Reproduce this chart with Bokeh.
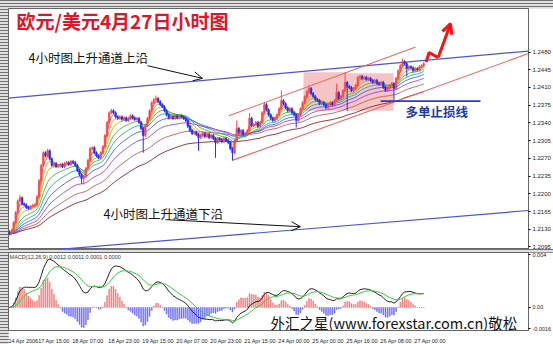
import numpy as np
from bokeh.plotting import figure
from bokeh.models import Range1d, FixedTicker, PrintfTickFormatter, Label, Arrow, OpenHead
from bokeh.layouts import column
from bokeh.embed import file_html
from bokeh.resources import INLINE

# ---------------- data ----------------
closes = [
    1.2121, 1.2127, 1.2143, 1.2163, 1.2186, 1.2192, 1.2180, 1.2178, 1.2173, 1.2171,
    1.2175, 1.2177, 1.2178, 1.2194, 1.2226, 1.2256, 1.2281, 1.2275, 1.2285, 1.2269,
    1.2256, 1.2260, 1.2254, 1.2256, 1.2258, 1.2254, 1.2260, 1.2262, 1.2258, 1.2264,
    1.2262, 1.2256, 1.2246, 1.2238, 1.2230, 1.2234, 1.2250, 1.2266, 1.2289, 1.2291,
    1.2281, 1.2275, 1.2271, 1.2281, 1.2293, 1.2315, 1.2341, 1.2360, 1.2364, 1.2360,
    1.2352, 1.2349, 1.2352, 1.2347, 1.2350, 1.2345, 1.2349, 1.2354, 1.2350, 1.2347,
    1.2349, 1.2341, 1.2329, 1.2315, 1.2335, 1.2349, 1.2364, 1.2380, 1.2386, 1.2388,
    1.2382, 1.2376, 1.2372, 1.2364, 1.2356, 1.2350, 1.2352, 1.2349, 1.2354, 1.2350,
    1.2354, 1.2352, 1.2349, 1.2345, 1.2333, 1.2325, 1.2319, 1.2321, 1.2317, 1.2311,
    1.2315, 1.2319, 1.2313, 1.2317, 1.2311, 1.2315, 1.2309, 1.2301, 1.2309, 1.2307,
    1.2303, 1.2309, 1.2305, 1.2301, 1.2289, 1.2281, 1.2305, 1.2329, 1.2321, 1.2325,
    1.2317, 1.2319, 1.2325, 1.2349, 1.2335, 1.2337, 1.2341, 1.2333, 1.2341, 1.2360,
    1.2376, 1.2366, 1.2356, 1.2349, 1.2345, 1.2349, 1.2356, 1.2368, 1.2384, 1.2378,
    1.2370, 1.2364, 1.2368, 1.2360, 1.2356, 1.2345, 1.2356, 1.2368, 1.2380, 1.2392,
    1.2402, 1.2408, 1.2398, 1.2392, 1.2386, 1.2384, 1.2378, 1.2380, 1.2376, 1.2370,
    1.2376, 1.2380, 1.2376, 1.2384, 1.2400, 1.2388, 1.2392, 1.2404, 1.2420, 1.2412,
    1.2410, 1.2404, 1.2408, 1.2414, 1.2430, 1.2432, 1.2428, 1.2430, 1.2426, 1.2428,
    1.2424, 1.2420, 1.2424, 1.2418, 1.2416, 1.2420, 1.2410, 1.2404, 1.2408, 1.2414,
    1.2418, 1.2408, 1.2428, 1.2443, 1.2453, 1.2461, 1.2457, 1.2447, 1.2451, 1.2449,
    1.2443, 1.2447, 1.2445, 1.2451, 1.2453, 1.2457,
]
first_open = 1.2125
wick = 0.0003
spike_high = {5: 1.2198, 18: 1.2289, 48: 1.2368, 69: 1.2394, 107: 1.2345, 113: 1.2360,
              120: 1.2382, 128: 1.2404, 141: 1.2414, 154: 1.2418, 158: 1.2439, 185: 1.2467}
spike_low = {34: 1.2220, 35: 1.2218, 63: 1.2281, 89: 1.2285, 97: 1.2271, 105: 1.2266,
             135: 1.2331, 159: 1.2364, 181: 1.2384, 187: 1.2432}

price_ticks = [1.2095, 1.2130, 1.2165, 1.2200, 1.2235, 1.2270, 1.2305, 1.2340,
               1.2375, 1.2410, 1.2445, 1.2480]
last_price_label = "1.2457"
date_tick_bars = [4, 21, 37, 54, 70, 86, 102, 118, 134, 150, 166, 182, 198]
date_tick_labels = ["14 Apr 2006", "17 Apr 15:00", "18 Apr 07:00", "18 Apr 23:00",
                    "19 Apr 15:00", "20 Apr 07:00", "20 Apr 23:00", "21 Apr 15:00",
                    "24 Apr 00:00", "25 Apr 00:00", "25 Apr 16:00", "26 Apr 08:00",
                    "27 Apr 00:00"]
macd_ticks = [0.0040, 0.0, -0.0016]
macd_tick_labels = ["0.004", "0.00", "-0.0016"]

ma_periods = [3, 5, 8, 13, 19, 27, 38, 55, 80]
ma_colors = ["#ff3a3a", "#ff9a20", "#a8c020", "#3cb83c", "#20a8b0", "#4a5cf0",
             "#9a44e0", "#c05a5a", "#8b2020"]

# drawn objects (bar index, price)
blue_upper_bars = [-0.4, 244.3]
blue_upper_prices = [1.2389, 1.2482]
blue_lower_bars = [-0.4, 244.3]
blue_lower_prices = [1.2082, 1.2167]
red_upper_bars = [103.2, 191.2]
red_upper_prices = [1.2354, 1.2490]
red_lower_bars = [104.9, 244.3]
red_lower_prices = [1.2266, 1.2477]
stop_bars = [174.7, 221.7]
stop_prices = [1.2383, 1.2383]
box_left = [138.4, 159.2]
box_right = [159.2, 180.8]
box_bottom = [1.2364, 1.2364]
box_top = [1.2440, 1.2438]
up_arrow_bars = [196.1, 197.5, 201.8, 207.6]
up_arrow_prices = [1.2460, 1.2479, 1.2469, 1.2536]
note_arrow_upper = [65.0, 1.2453, 90.9, 1.2428]
note_arrow_lower = [73.5, 1.2149, 137.0, 1.2135]

# ---------------- derived ----------------
n = len(closes)
idx = np.arange(n)
c = np.array(closes)
o = np.concatenate([[first_open], c[:-1]])
hi = np.maximum(o, c) + wick
lo = np.minimum(o, c) - wick
for k, v in spike_high.items():
    hi[k] = max(hi[k], v)
for k, v in spike_low.items():
    lo[k] = min(lo[k], v)
up = c >= o


def ema(x, period):
    a = 2.0 / (period + 1)
    out = np.empty(len(x))
    out[0] = x[0]
    for i in range(1, len(x)):
        out[i] = out[i - 1] + a * (x[i] - out[i - 1])
    return out


dif = ema(c, 12) - ema(c, 26)
dea = ema(dif, 9)
hist = 2 * (dif - dea)

# helpers for placing annotation text (page pixels -> data)
def mxy(px, py):
    return (px - 8.8) / 2.125, 1.25818 - 0.0001977 * py


def dxy(px, py):
    return (px - 8.8) / 2.125, 0.00415 - (py - 252) * 7.551e-5


CJK = "Noto Sans CJK SC"

# ---------------- main price panel ----------------
p = figure(frame_width=520, frame_height=241, x_range=Range1d(-0.4, 244.3),
           y_range=Range1d(1.2090, 1.2566), toolbar_location=None, output_backend="svg",
           x_axis_location=None, y_axis_location="right",
           min_border_left=0, min_border_right=0, min_border_top=0, min_border_bottom=0,
           background_fill_color="white", border_fill_color="white",
           outline_line_color="#666666", margin=(8, 0, 0, 8))
p.grid.visible = False
ya = p.yaxis[0]
ya.ticker = FixedTicker(ticks=price_ticks)
ya.formatter = PrintfTickFormatter(format="%.4f")
ya.major_label_text_font_size = "6px"
ya.major_label_text_color = "#222222"
ya.major_tick_out = 2
ya.major_tick_in = 0
ya.minor_tick_line_color = None
ya.major_label_standoff = 2
ya.axis_line_color = "#666666"

p.quad(left=box_left, right=box_right, bottom=box_bottom, top=box_top,
       fill_color="#f5c4c4", line_color=None)

for per, col in zip(ma_periods, ma_colors):
    p.line(idx, ema(c, per), line_color=col, line_width=0.9)

p.line(blue_upper_bars, blue_upper_prices, line_color="#4a55d8", line_width=1.2)
p.line(blue_lower_bars, blue_lower_prices, line_color="#4a55d8", line_width=1.2)
p.line(red_upper_bars, red_upper_prices, line_color="#ee6666", line_width=1.1)
p.line(red_lower_bars, red_lower_prices, line_color="#ee6666", line_width=1.1)
p.line(stop_bars, stop_prices, line_color="#2a3ad0", line_width=1.6)

bull, bear = "#ff4848", "#2030ff"
colors = [bull if u else bear for u in up]
p.segment(x0=idx, y0=lo, x1=idx, y1=hi, line_color=colors, line_width=1)
p.vbar(x=idx, top=np.maximum(o, c), bottom=np.minimum(o, c), width=0.75,
       fill_color=colors, line_color=colors, line_width=0.6)

p.line(up_arrow_bars[:3], up_arrow_prices[:3], line_color="#ff1010", line_width=3)
p.add_layout(Arrow(end=OpenHead(size=10, line_color="#ff1010", line_width=3),
                   x_start=up_arrow_bars[2], y_start=up_arrow_prices[2],
                   x_end=up_arrow_bars[3], y_end=up_arrow_prices[3],
                   line_color="#ff1010", line_width=3))
for a in (note_arrow_upper, note_arrow_lower):
    p.add_layout(Arrow(end=OpenHead(size=9, line_color="#111111", line_width=1),
                       x_start=a[0], y_start=a[1], x_end=a[2], y_end=a[3],
                       line_color="#111111", line_width=1))

x, y = mxy(16, 20)
p.add_layout(Label(x=x, y=y, text="欧元/美元4月27日小时图", text_font=CJK,
                   text_font_size="19px", text_font_style="bold", text_color="#e0142a",
                   text_align="left", text_baseline="middle"))
x, y = mxy(28, 57)
p.add_layout(Label(x=x, y=y, text="4小时图上升通道上沿", text_font=CJK,
                   text_font_size="12.5px", text_color="#111111",
                   text_align="left", text_baseline="middle"))
x, y = mxy(103, 213)
p.add_layout(Label(x=x, y=y, text="4小时图上升通道下沿", text_font=CJK,
                   text_font_size="12.5px", text_color="#111111",
                   text_align="left", text_baseline="middle"))
x, y = mxy(405, 111)
p.add_layout(Label(x=x, y=y, text="多单止损线", text_font=CJK,
                   text_font_size="12.5px", text_font_style="bold", text_color="#1c3aa8",
                   text_align="left", text_baseline="middle"))
p.add_layout(Label(x=244.3, y=closes[-1], x_offset=1, text=last_price_label,
                   text_font_size="6px", text_color="white", background_fill_color="black",
                   text_align="left", text_baseline="middle"))

# ---------------- MACD panel ----------------
m = figure(frame_width=520, frame_height=78, x_range=p.x_range,
           y_range=Range1d(-0.00174, 0.00415), toolbar_location=None, output_backend="svg",
           y_axis_location="right",
           min_border_left=0, min_border_right=0, min_border_top=0, min_border_bottom=10,
           background_fill_color="white", border_fill_color="white",
           outline_line_color="#666666", margin=(0, 0, 4, 8))
m.grid.visible = False
xa = m.xaxis[0]
xa.ticker = FixedTicker(ticks=date_tick_bars)
xa.major_label_overrides = {t: s for t, s in zip(date_tick_bars, date_tick_labels)}
xa.major_label_text_font_size = "5.5px"
xa.major_label_text_color = "#222222"
xa.major_label_standoff = 1
xa.major_tick_line_color = None
xa.minor_tick_line_color = None
xa.axis_line_color = "#666666"
ma = m.yaxis[0]
ma.ticker = FixedTicker(ticks=macd_ticks)
ma.major_label_overrides = {t: s for t, s in zip(macd_ticks, macd_tick_labels)}
ma.major_label_text_font_size = "5.5px"
ma.major_label_text_color = "#222222"
ma.major_tick_out = 2
ma.major_tick_in = 0
ma.minor_tick_line_color = None
ma.major_label_standoff = 2
ma.axis_line_color = "#666666"

hcol = ["#f07f7f" if h >= 0 else "#6f6ff0" for h in hist]
m.vbar(x=idx, top=np.maximum(hist, 0), bottom=np.minimum(hist, 0), width=0.45,
       fill_color=hcol, line_color=hcol, line_width=0.5)
m.line(idx, dif, line_color="#222222", line_width=1)
m.line(idx, dea, line_color="#33cc33", line_width=1)

x, y = dxy(9, 256.5)
m.add_layout(Label(x=x, y=y, text="MACD(12,26,9) 0.0012 0.0011 0.0001 0.0000",
                   text_font_size="5.5px", text_color="#333333",
                   text_align="left", text_baseline="middle"))
x, y = dxy(270, 322)
m.add_layout(Label(x=x, y=y, text="外汇之星(www.forexstar.com.cn)敬松", text_font=CJK,
                   text_font_size="14.5px", text_color="#111111",
                   text_align="left", text_baseline="middle"))

layout = column(p, m, spacing=3, styles={
    "background": "repeating-linear-gradient(to bottom, #727272 0px, #727272 1px, #dedede 1px, #dedede 3px)"})

open("out.html", "w").write(file_html(layout, INLINE, "EURUSD"))
